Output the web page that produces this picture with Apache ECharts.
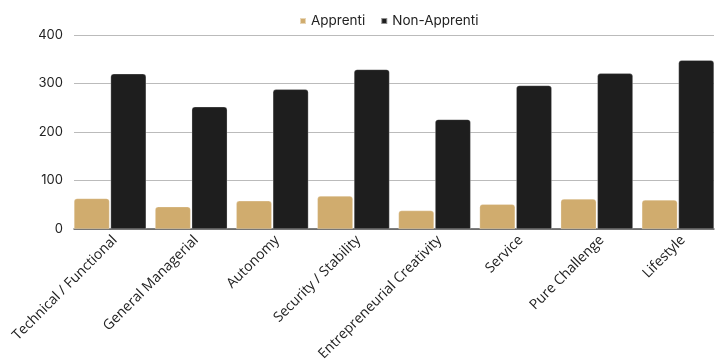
<!DOCTYPE html>
<html><head><meta charset="utf-8">
<script src="https://cdn.jsdelivr.net/npm/echarts@6/dist/echarts.min.js"></script>
<style>html,body{margin:0;padding:0;background:#fff}#c{width:724px;height:364px}</style>
</head><body><div id="c"></div>
<script>
const categories = ["Technical / Functional","General Managerial","Autonomy","Security / Stability","Entrepreneurial Creativity","Service","Pure Challenge","Lifestyle"];
const apprenti = [63, 46, 58, 68, 38, 51, 62, 60];
const nonApprenti = [320, 252, 288, 329, 226, 296, 321, 348];
const yTicks = [0, 100, 200, 300, 400];

const chart = echarts.init(document.getElementById('c'), null, {renderer:'canvas'});
chart.setOption({
  animation:false,
  legend:{top:9,left:294,itemWidth:6,itemHeight:6,itemGap:15,icon:'rect',
    textStyle:{fontFamily:'Inter',fontSize:13.5,color:'#222'},
    data:['Apprenti','Non-Apprenti']},
  grid:[
    {left:74,right:10,top:35,bottom:135,containLabel:false},
    {left:69.5,right:5.5,top:35,bottom:135,containLabel:false}
  ],
  xAxis:[
    {type:'category',gridIndex:0,data:categories,axisLine:{lineStyle:{color:'#555',width:1.5}},axisTick:{show:false},axisLabel:{show:false}},
    {type:'category',gridIndex:1,data:categories,axisLine:{show:false},axisTick:{show:false},
     axisLabel:{rotate:45,interval:0,margin:4,verticalAlign:'top',fontFamily:'Open Sans',fontSize:14,color:'#222'}}
  ],
  yAxis:[
    {type:'value',gridIndex:0,min:yTicks[0],max:yTicks[yTicks.length-1],interval:100,
     axisLabel:{margin:11,fontFamily:'Inter',fontSize:13,color:'#222'},
     splitLine:{lineStyle:{color:'#bbb',width:1}},axisLine:{show:false},axisTick:{show:false}},
    {type:'value',gridIndex:1,min:0,max:400,show:false,splitLine:{show:false}}
  ],
  series:[
    {name:'Apprenti',type:'bar',xAxisIndex:1,yAxisIndex:1,data:apprenti,barGap:'3%',barCategoryGap:'11%',
     itemStyle:{color:'#d0ac6e',borderRadius:[3,3,0,0],borderColor:'rgba(255,255,255,0.5)',borderWidth:0.5}},
    {name:'Non-Apprenti',type:'bar',xAxisIndex:1,yAxisIndex:1,data:nonApprenti,barGap:'3%',barCategoryGap:'11%',
     itemStyle:{color:'#1e1e1e',borderRadius:[3,3,0,0],borderColor:'rgba(255,255,255,0.5)',borderWidth:0.5}}
  ]
});
</script></body></html>
